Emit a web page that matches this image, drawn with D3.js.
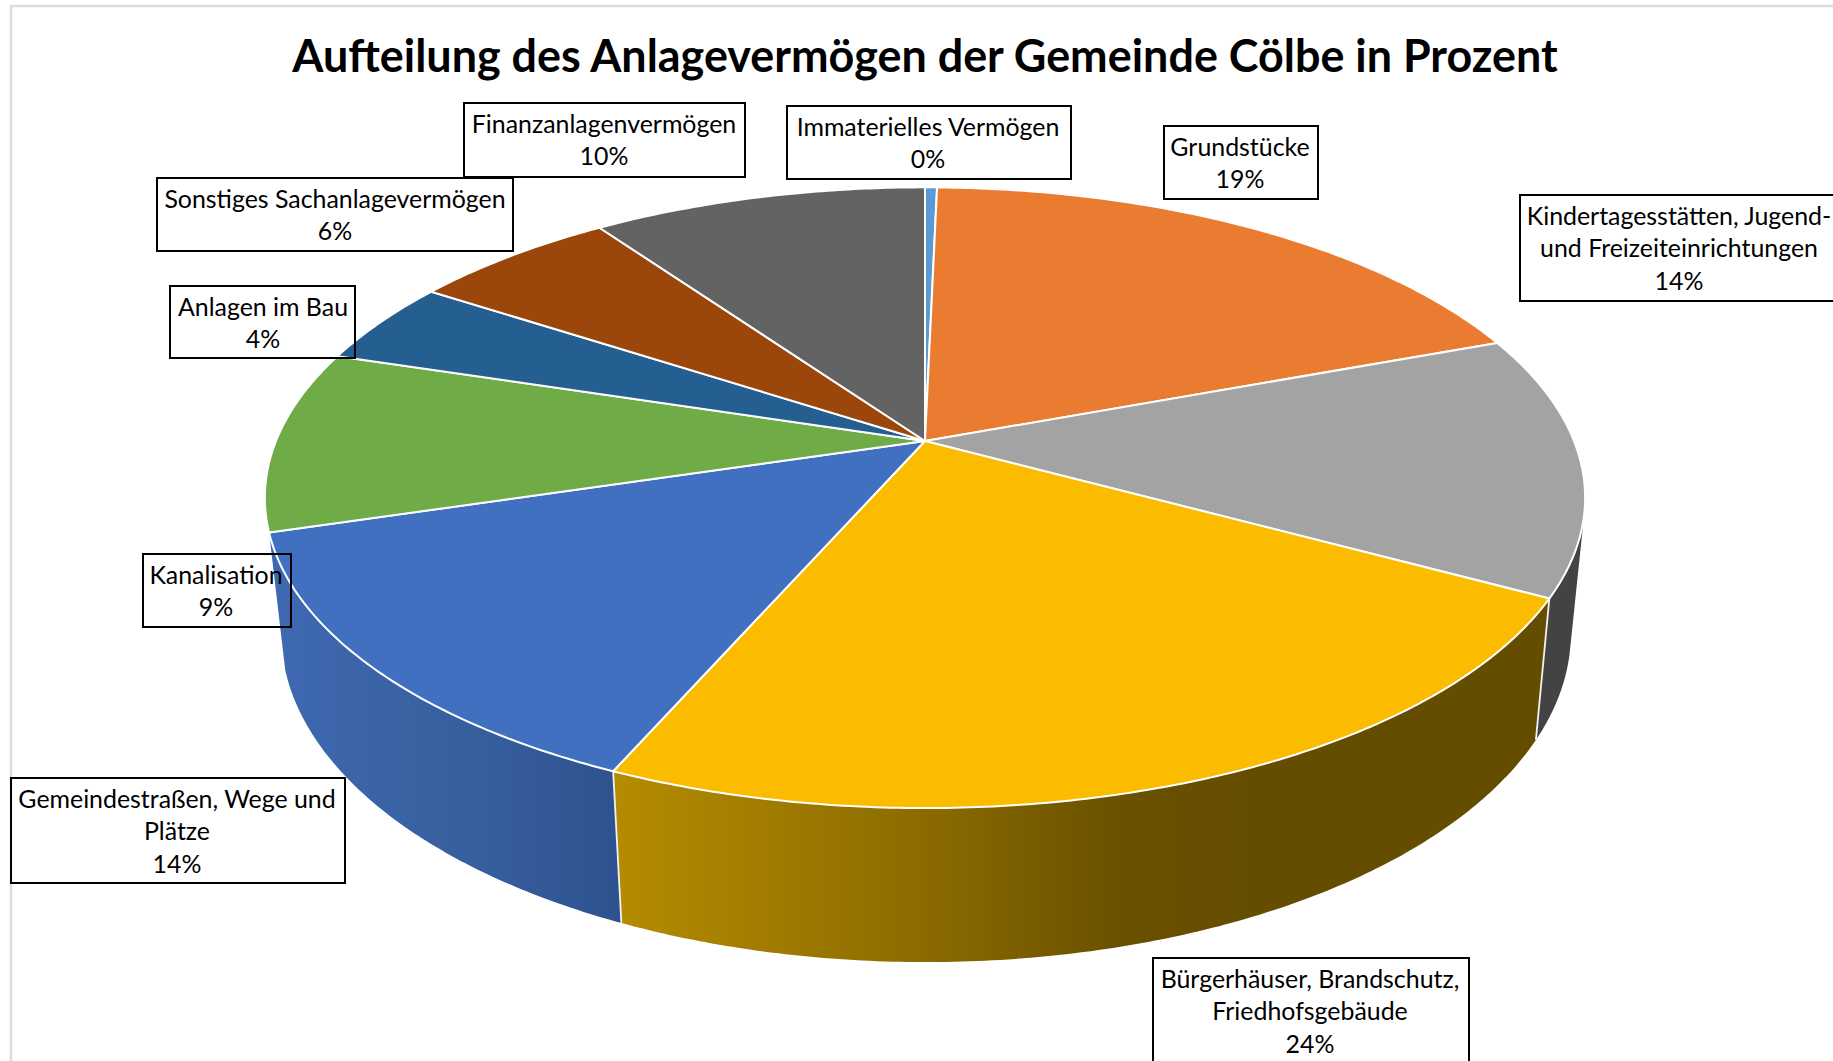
<!DOCTYPE html>
<html lang="de">
<head>
<meta charset="utf-8">
<script src="https://cdn.jsdelivr.net/npm/d3@7"></script>
<style>
html,body{margin:0;padding:0;background:#fff;overflow:hidden}
svg{display:block}
text{font-family:Lato,"Open Sans",sans-serif;fill:#000}
</style>
</head>
<body>
<svg id="chart" width="1833" height="1061"></svg>
<script>
// ---- data ----
const chartTitle = "Aufteilung des Anlagevermögen der Gemeinde Cölbe in Prozent";
const categories = [
  ["Immaterielles Vermögen"],
  ["Grundstücke"],
  ["Kindertagesstätten, Jugend-", "und Freizeiteinrichtungen"],
  ["Bürgerhäuser, Brandschutz,", "Friedhofsgebäude"],
  ["Gemeindestraßen, Wege und", "Plätze"],
  ["Kanalisation"],
  ["Anlagen im Bau"],
  ["Sonstiges Sachanlagevermögen"],
  ["Finanzanlagenvermögen"]
];
const values = [0.35, 19, 13.6, 23.6, 13.78, 9.49, 4.4, 6, 9.78];

// ---- styles ----
const topColors = ["#5b9bd5","#ea7c31","#a3a3a3","#fbbc00","#4270c0","#6fab47","#255e91","#9b470c","#636363"];
const sideFills = {2:"#434343", 3:"url(#goldSide)", 4:"url(#blueSide)"};

// ---- layout of the label boxes [x0, y0, x1, y1, text centre x] ----
const labelBoxes = [
  [787,106,1071,179,928],
  [1164,126,1318,199,1240],
  [1520,195,1845,301,1679],
  [1153,958,1469,1075,1310],
  [11,778,345,883,177],
  [143,554,291,627,216],
  [170,286,355,358,263],
  [157,178,513,251,335],
  [464,103,745,177,604]
];

const svg = d3.select("#chart");
const defs = svg.append("defs");
function grad(id,x1,x2,stops){
  const g = defs.append("linearGradient").attr("id",id)
    .attr("gradientUnits","userSpaceOnUse")
    .attr("x1",x1).attr("x2",x2).attr("y1",0).attr("y2",0);
  stops.forEach(s=>g.append("stop").attr("offset",s[0]).attr("stop-color",s[1]));
}
grad("goldSide",612,1250,[[0,"#b58c00"],[0.45,"#8f6e00"],[0.8,"#6a5000"],[1,"#654d00"]]);
grad("blueSide",285,620,[[0,"#3e68b0"],[0.5,"#38609f"],[1,"#2e5290"]]);

// frame
svg.append("path").attr("d","M11,1061V6H1833").attr("fill","none").attr("stroke","#dcdcdc").attr("stroke-width",2.5);

// title
svg.append("text").attr("x",925).attr("y",72).attr("text-anchor","middle")
  .attr("font-size",44.9).attr("font-weight",700).text(chartTitle);

// perspective planes of the disc
const K = 0.1827;
const topPlane = {cx:925, cy:441, rx:649, ry:300};
const basePlane = {cx:926, cy:573, rx:634, ry:318};
function project(p, a){
  const u = Math.sin(a), v = Math.cos(a), w = 1 + K*v;
  return [p.cx + p.rx*u/w, p.cy - p.ry*v/w];
}
function rim(p, a0, a1){
  const n = Math.max(2, Math.ceil((a1-a0)/0.01));
  return d3.range(n+1).map(i=>project(p, a0+(a1-a0)*i/n));
}
const arcs = d3.pie().sort(null).value(d=>d)(values);
const line = d3.line();

// side walls
const sideG = svg.append("g");
arcs.forEach((d,i)=>{
  if(!sideFills[i]) return;
  const pts = rim(topPlane,d.startAngle,d.endAngle).concat(rim(basePlane,d.startAngle,d.endAngle));
  sideG.append("path").attr("d",line(d3.polygonHull(pts))+"Z").attr("fill",sideFills[i]);
});
// white edges between the walls
[arcs[2].endAngle, arcs[3].endAngle].forEach(a=>{
  sideG.append("path").attr("d",line([project(topPlane,a),project(basePlane,a)]))
    .attr("stroke","#f2f2f2").attr("stroke-width",1.8).attr("fill","none");
});

// top faces
const centre = [topPlane.cx, topPlane.cy];
svg.append("g").selectAll("path").data(arcs).join("path")
  .attr("d",d=>line([centre].concat(rim(topPlane,d.startAngle,d.endAngle)))+"Z")
  .attr("fill",(d,i)=>topColors[i])
  .attr("stroke","#fff").attr("stroke-width",2).attr("stroke-linejoin","round");

// labels
const total = d3.sum(values);
const pct = d3.format(".0%");
const labels = svg.append("g");
categories.forEach((lines,i)=>{
  const b = labelBoxes[i];
  labels.append("rect").attr("x",b[0]).attr("y",b[1]).attr("width",b[2]-b[0]).attr("height",b[3]-b[1])
    .attr("fill","none").attr("stroke","#000").attr("stroke-width",2);
  lines.concat([pct(values[i]/total)]).forEach((t,j)=>{
    labels.append("text").attr("x",b[4]).attr("y",b[1]+30+j*32.3)
      .attr("text-anchor","middle").attr("font-size",24.9).text(t);
  });
});
</script>
</body>
</html>
